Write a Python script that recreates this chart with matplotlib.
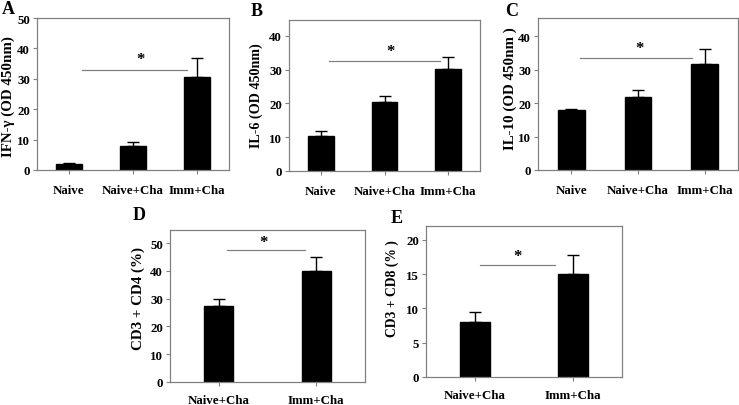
import matplotlib.pyplot as plt

plt.rcParams['font.family'] = 'Liberation Serif'
plt.rcParams['font.weight'] = 'bold'

# top row: cytokines
cats_top = ['Naive', 'Naive+Cha', 'Imm+Cha']
ifng = [2.0, 8.0, 30.5]
ifng_err = [0.3, 1.3, 6.2]
il6 = [10.5, 20.3, 30.2]
il6_err = [1.2, 2.0, 3.4]
il10 = [17.8, 21.8, 31.8]
il10_err = [0.5, 2.2, 4.2]

# bottom row: T cells
cats_bot = ['Naive+Cha', 'Imm+Cha']
cd4 = [27.5, 40.0]
cd4_err = [2.5, 5.0]
cd8 = [8.0, 15.0]
cd8_err = [1.4, 2.8]

W, H = 739, 406
fig = plt.figure(figsize=(W / 100, H / 100), dpi=100)


def px_axes(l, t, r, b):
    ax = fig.add_axes([l / W, 1 - b / H, (r - l) / W, (b - t) / H])
    ax._px = (r - l, b - t)
    return ax


def panel(ax, cats, vals, errs, width, ylim, yticks, ylabel, sig, letter, lpos,
          xpad=7, ylab=(30, 0, 11)):
    x = list(range(len(cats)))
    ax.bar(x, vals, width=width, color='black', edgecolor='black')
    ax.errorbar(x, vals, yerr=[[0] * len(vals), errs], fmt='none',
                ecolor='black', elinewidth=1, capsize=4.5, capthick=1)
    ax.set_xlim(-0.5, len(cats) - 0.5)
    ax.set_ylim(*ylim)
    ax.set_yticks(yticks)
    ax.set_xticks(x)
    ax.set_xticklabels(cats, fontsize=9.3, fontweight='bold')
    ax.tick_params(axis='y', labelsize=9.3, length=3, color='#808080', pad=2)
    ax.tick_params(axis='x', length=3, color='#808080', pad=xpad)
    for s in ax.spines.values():
        s.set_color('#808080')
        s.set_linewidth(0.9)
    for lab in ax.get_yticklabels():
        lab.set_fontweight('bold')
    # y label placed by pixel offset from the axes (left, up) and size
    off_x, off_y, size = ylab
    ax.set_ylabel(ylabel, fontsize=size, fontweight='bold')
    ax.yaxis.set_label_coords(-off_x / ax._px[0], 0.5 + off_y / ax._px[1])
    ax.yaxis.label.set_verticalalignment('center')
    x0, x1, yl, xs, ys = sig
    ax.plot([x0, x1], [yl, yl], color='#808080', lw=0.9)
    ax.text(xs, ys, '*', ha='center', va='center', fontsize=12, fontweight='bold')
    fig.text(lpos[0] / W, 1 - lpos[1] / H, letter, fontsize=13,
             fontweight='bold', ha='left', va='center')


axA = px_axes(37, 19, 229, 171)
panel(axA, cats_top, ifng, ifng_err, 0.4, (0, 50), range(0, 51, 10),
      'IFN-γ (OD 450nm)', (0.2, 1.84, 33, 1.12, 36.5), 'A', (2, 10),
      ylab=(28.5, -1.5, 10.8))

axB = px_axes(289, 21, 480, 172)
panel(axB, cats_top, il6, il6_err, 0.4, (0, 44.7), range(0, 41, 10),
      'IL-6 (OD 450nm)', (0.13, 1.87, 32.6, 1.09, 35.5), 'B', (251, 12),
      ylab=(33, 0.5, 10.2))

axC = px_axes(538, 19, 738, 171)
panel(axC, cats_top, il10, il10_err, 0.4, (0, 45.4), range(0, 41, 10),
      'IL-10 (OD 450nm )', (0.13, 1.81, 33.6, 1.03, 36.5), 'C', (505, 12),
      ylab=(28, 6, 10.8))

axD = px_axes(170, 231, 365, 383)
panel(axD, cats_bot, cd4, cd4_err, 0.3, (0, 54.7), range(0, 51, 10),
      'CD3 + CD4 (%)', (0.085, 0.885, 47.5, 0.46, 50.5), 'D', (133, 216),
      xpad=6, ylab=(32, 8, 10.8))

axE = px_axes(426, 227, 622, 378)
panel(axE, cats_bot, cd8, cd8_err, 0.3, (0, 22.0), range(0, 21, 5),
      'CD3 + CD8 (% )', (0.05, 0.82, 16.35, 0.43, 17.6), 'E', (391, 219),
      xpad=6, ylab=(34, 14, 9.8))

fig.savefig('out.png', dpi=100)
